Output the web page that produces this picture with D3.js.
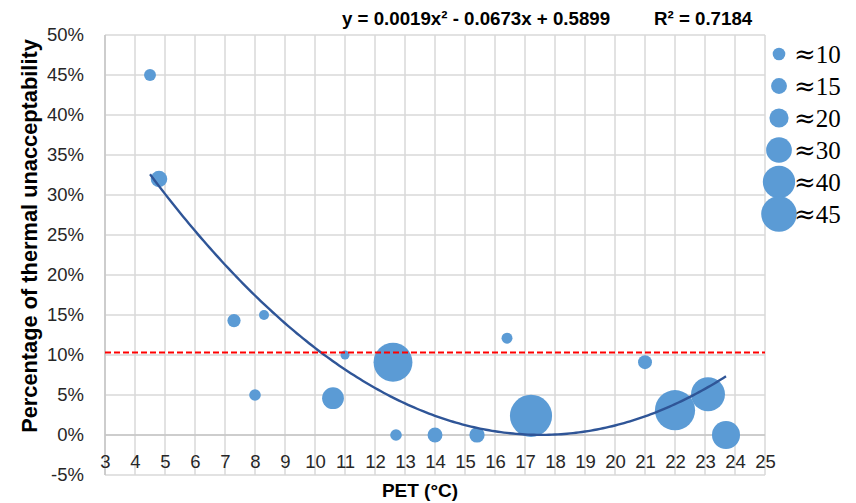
<!DOCTYPE html>
<html>
<head>
<meta charset="utf-8">
<script src="https://cdn.jsdelivr.net/npm/d3@7"></script>
<style>
  html, body { margin: 0; padding: 0; background: #fff; }
  svg { display: block; }
</style>
</head>
<body>
<svg id="chart" width="856" height="503"></svg>
<script>
// ---- data ----
const pet = [4.5, 4.8, 7.3, 8.3, 8.0, 11.0, 10.6, 12.6, 16.4, 12.7, 14.0, 15.4, 17.2, 21.0, 22.0, 23.1, 23.7];
const unacceptability = [0.45, 0.32, 0.143, 0.15, 0.05, 0.10, 0.046, 0.091, 0.121, 0.0, 0.0, 0.0, 0.024, 0.091, 0.031, 0.051, 0.0];
const bubbleSize = [9, 16, 11, 6, 8.5, 4.5, 24, 50, 7.5, 8.5, 13.5, 14, 55, 12, 52, 42.5, 33.5];
const trendCoef = [0.00192, -0.0673, 0.5899]; // a, b, c
const threshold = 0.103;
const legendSizes = [10, 15, 20, 30, 40, 45];
const xTicks = d3.range(3, 26, 1);
const yTicks = [-0.05, 0, 0.05, 0.10, 0.15, 0.20, 0.25, 0.30, 0.35, 0.40, 0.45, 0.50];
const equationText = "y = 0.0019x\u00B2 - 0.0673x + 0.5899";
const r2Text = "R\u00B2 = 0.7184";
const xTitle = "PET (\u00B0C)";
const yTitle = "Percentage of thermal unacceptability";

// ---- layout ----
const svg = d3.select("#chart");
const x = d3.scaleLinear().domain([3, 25]).range([105, 765]);
const y = d3.scaleLinear().domain([-0.05, 0.5]).range([475, 35]);
const r = d3.scaleLinear().domain([10, 45]).range([6.3, 17.8]);

const loc = d3.formatLocale({decimal: ".", thousands: ",", grouping: [3], currency: ["", ""], minus: "-", percent: "%"});
const pct = loc.format(".0%");

svg.append("rect").attr("width", 856).attr("height", 503).attr("fill", "#fff");

// gridlines
const grid = svg.append("g");
grid.selectAll("line.h").data(yTicks).join("line")
  .attr("x1", x(3)).attr("x2", x(25))
  .attr("y1", d => y(d)).attr("y2", d => y(d))
  .attr("stroke", "#d9d9d9").attr("stroke-width", 1.5);
grid.selectAll("line.v").data(xTicks).join("line")
  .attr("x1", d => x(d)).attr("x2", d => x(d))
  .attr("y1", y(0.5)).attr("y2", y(-0.05))
  .attr("stroke", "#d9d9d9").attr("stroke-width", 1.5);
// axis lines
svg.append("line").attr("x1", x(3)).attr("x2", x(25)).attr("y1", y(0)).attr("y2", y(0))
  .attr("stroke", "#c6c6c6").attr("stroke-width", 1.5);
svg.append("line").attr("x1", x(3)).attr("x2", x(3)).attr("y1", y(0.5)).attr("y2", y(-0.05))
  .attr("stroke", "#c6c6c6").attr("stroke-width", 1.5);

// axes (labels only)
const fontTick = "'Liberation Sans', Arial, sans-serif";
const xAxis = svg.append("g").attr("transform", `translate(0,${y(0)})`)
  .call(d3.axisBottom(x).tickValues(xTicks).tickSize(0).tickPadding(20).tickFormat(d3.format("d")));
xAxis.select(".domain").remove();
xAxis.selectAll("text").attr("font-family", fontTick).attr("font-size", 18.5).attr("fill", "#262626");

const yAxis = svg.append("g").attr("transform", `translate(${x(3)},0)`)
  .call(d3.axisLeft(y).tickValues(yTicks).tickSize(0).tickPadding(21).tickFormat(pct));
yAxis.select(".domain").remove();
yAxis.selectAll("text").attr("font-family", fontTick).attr("font-size", 18.5).attr("fill", "#262626");

// bubbles
const pts = pet.map((p, i) => ({x: p, y: unacceptability[i], s: bubbleSize[i]}));
svg.append("g").selectAll("circle").data(pts).join("circle")
  .attr("cx", d => x(d.x)).attr("cy", d => y(d.y)).attr("r", d => r(d.s))
  .attr("fill", "#5b9bd5");

// trendline
const [a, b, c] = trendCoef;
const xs = d3.extent(pet);
const trendPts = d3.range(xs[0], xs[1] + 0.001, 0.1).map(v => [v, a*v*v + b*v + c]);
svg.append("path").datum(trendPts)
  .attr("d", d3.line().x(d => x(d[0])).y(d => y(d[1])).curve(d3.curveMonotoneX))
  .attr("fill", "none").attr("stroke", "#2f5597").attr("stroke-width", 2.4);

// threshold line
svg.append("line").attr("x1", x(3)).attr("x2", x(25)).attr("y1", y(threshold)).attr("y2", y(threshold))
  .attr("stroke", "#ff0000").attr("stroke-width", 2).attr("stroke-dasharray", "6,3");

// equation
svg.append("text").attr("x", 342).attr("y", 25).text(equationText)
  .attr("font-family", fontTick).attr("font-weight", "bold").attr("font-size", 18.7).attr("fill", "#000");
svg.append("text").attr("x", 654).attr("y", 25).text(r2Text)
  .attr("font-family", fontTick).attr("font-weight", "bold").attr("font-size", 18.7).attr("fill", "#000");

// axis titles
svg.append("text").attr("x", 420).attr("y", 497).attr("text-anchor", "middle").text(xTitle)
  .attr("font-family", fontTick).attr("font-weight", "bold").attr("font-size", 19).attr("fill", "#000");
svg.append("text").attr("transform", "translate(37,236) rotate(-90)").attr("text-anchor", "middle").text(yTitle)
  .attr("font-family", fontTick).attr("font-weight", "bold").attr("font-size", 21.8).attr("fill", "#000");

// legend
const lg = svg.append("g");
const rows = lg.selectAll("g").data(legendSizes).join("g")
  .attr("transform", (d, i) => `translate(0,${63 + 32 * i})`);
rows.append("circle").attr("cx", 779).attr("cy", -9).attr("r", d => r(d)).attr("fill", "#5b9bd5");
const lt = rows.append("text").attr("x", 794).attr("y", 0)
  .attr("font-family", "'Liberation Serif', 'Times New Roman', serif").attr("font-size", 25).attr("fill", "#000");
lt.append("tspan").attr("font-family", "'DejaVu Serif', serif").attr("font-size", 26).text("\u2248");
lt.append("tspan").text(d => d);
</script>
</body>
</html>
